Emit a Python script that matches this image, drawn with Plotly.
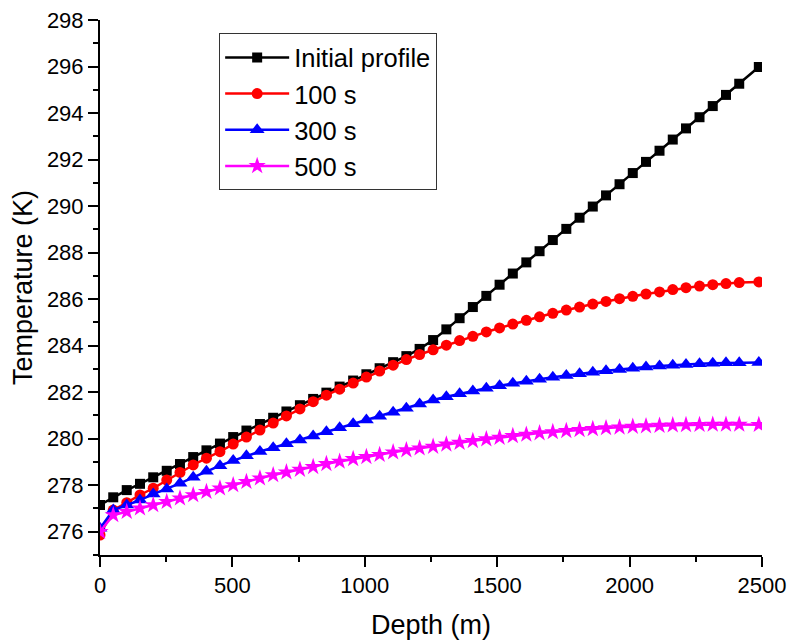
import plotly.graph_objects as go

# Depth grid (m)
depth = [0, 50, 101, 151, 201, 252, 302, 352, 402, 453,
         503, 553, 604, 654, 704, 755, 805, 855, 905, 956,
         1006, 1056, 1107, 1157, 1207, 1258, 1308, 1358, 1408, 1459,
         1509, 1559, 1610, 1660, 1710, 1761, 1811, 1861, 1911, 1962,
         2012, 2062, 2113, 2163, 2213, 2264, 2314, 2364, 2414, 2488]

# Temperature profiles (K)
t_initial = [277.15, 277.48, 277.79, 278.06, 278.34, 278.62, 278.91, 279.21, 279.50, 279.79,
             280.07, 280.35, 280.63, 280.90, 281.17, 281.44, 281.71, 281.98, 282.24, 282.50,
             282.77, 283.03, 283.29, 283.55, 283.86, 284.24, 284.70, 285.18, 285.66, 286.14,
             286.62, 287.10, 287.58, 288.06, 288.54, 289.02, 289.50, 289.98, 290.46, 290.94,
             291.42, 291.90, 292.38, 292.86, 293.34, 293.82, 294.30, 294.78, 295.26, 295.98]
t_100 = [275.86, 276.93, 277.25, 277.58, 277.87, 278.22, 278.55, 278.87, 279.16, 279.44,
         279.77, 280.07, 280.37, 280.67, 280.98, 281.28, 281.59, 281.87, 282.13, 282.39,
         282.65, 282.91, 283.16, 283.40, 283.62, 283.82, 284.02, 284.22, 284.40, 284.59,
         284.76, 284.93, 285.09, 285.24, 285.39, 285.53, 285.66, 285.79, 285.90, 286.02,
         286.12, 286.22, 286.31, 286.41, 286.49, 286.56, 286.62, 286.67, 286.71, 286.74]
t_300 = [276.15, 276.93, 277.15, 277.36, 277.62, 277.84, 278.08, 278.34, 278.60, 278.84,
         279.06, 279.27, 279.45, 279.61, 279.78, 279.94, 280.12, 280.30, 280.47, 280.64,
         280.80, 280.97, 281.14, 281.31, 281.49, 281.66, 281.80, 281.93, 282.05, 282.17,
         282.28, 282.38, 282.47, 282.56, 282.64, 282.72, 282.79, 282.86, 282.92, 282.98,
         283.03, 283.08, 283.12, 283.16, 283.19, 283.22, 283.24, 283.26, 283.27, 283.28]
t_500 = [276.00, 276.72, 276.86, 277.01, 277.15, 277.29, 277.44, 277.58, 277.72, 277.87,
         278.01, 278.15, 278.30, 278.44, 278.56, 278.67, 278.79, 278.92, 279.02, 279.13,
         279.22, 279.31, 279.42, 279.51, 279.59, 279.66, 279.76, 279.83, 279.91, 279.98,
         280.05, 280.12, 280.18, 280.24, 280.29, 280.34, 280.38, 280.42, 280.46, 280.49,
         280.52, 280.54, 280.56, 280.58, 280.59, 280.60, 280.61, 280.61, 280.61, 280.60]

series_names = ["Initial profile", "100 s", "300 s", "500 s"]
series_values = [t_initial, t_100, t_300, t_500]
colors = ["#000000", "#FF0000", "#0000FF", "#FF00FF"]
symbols = ["square", "circle", "triangle-up", "star"]
sizes = [10, 11, 13, 13]

FONT = "Arial, Liberation Sans, sans-serif"

fig = go.Figure()
for i, (name, vals) in enumerate(zip(series_names, series_values)):
    fig.add_trace(go.Scatter(
        x=depth, y=vals, name=name, mode="lines+markers",
        line=dict(color=colors[i], width=2.5),
        marker=dict(symbol=symbols[i], size=sizes[i], color=colors[i],
                    line=dict(width=0)),
        legendgroup=name,
    ))

axis_common = dict(
    showline=True, linecolor="black", linewidth=2,
    ticks="outside", ticklen=10, tickwidth=2, tickcolor="black",
    showgrid=False, zeroline=False, mirror=False,
    tickfont=dict(family=FONT, size=22, color="black"),
)

fig.update_xaxes(
    range=[0, 2500], tick0=0, dtick=500,
    minor=dict(dtick=250, ticks="outside", ticklen=5, tickwidth=2, tickcolor="black"),
    title=dict(text="Depth (m)", font=dict(family=FONT, size=27, color="black"), standoff=18),
    **axis_common,
)
fig.update_yaxes(
    range=[275, 298], tick0=276, dtick=2,
    minor=dict(dtick=1, ticks="outside", ticklen=5, tickwidth=2, tickcolor="black"),
    title=dict(text="Temperature (K)", font=dict(family=FONT, size=27, color="black"), standoff=6),
    **axis_common,
)

fig.update_layout(
    width=788, height=641,
    margin=dict(l=100, r=26, t=20, b=86, autoexpand=False),
    paper_bgcolor="white", plot_bgcolor="white",
    font=dict(family=FONT, color="black"),
    legend=dict(
        x=0.18, y=0.975, xanchor="left", yanchor="top",
        font=dict(family=FONT, size=25.5, color="black"),
        bordercolor="#333333", borderwidth=1, bgcolor="white",
        traceorder="grouped", tracegroupgap=0,
        itemwidth=64,
    ),
)

fig.write_html("out.html")
